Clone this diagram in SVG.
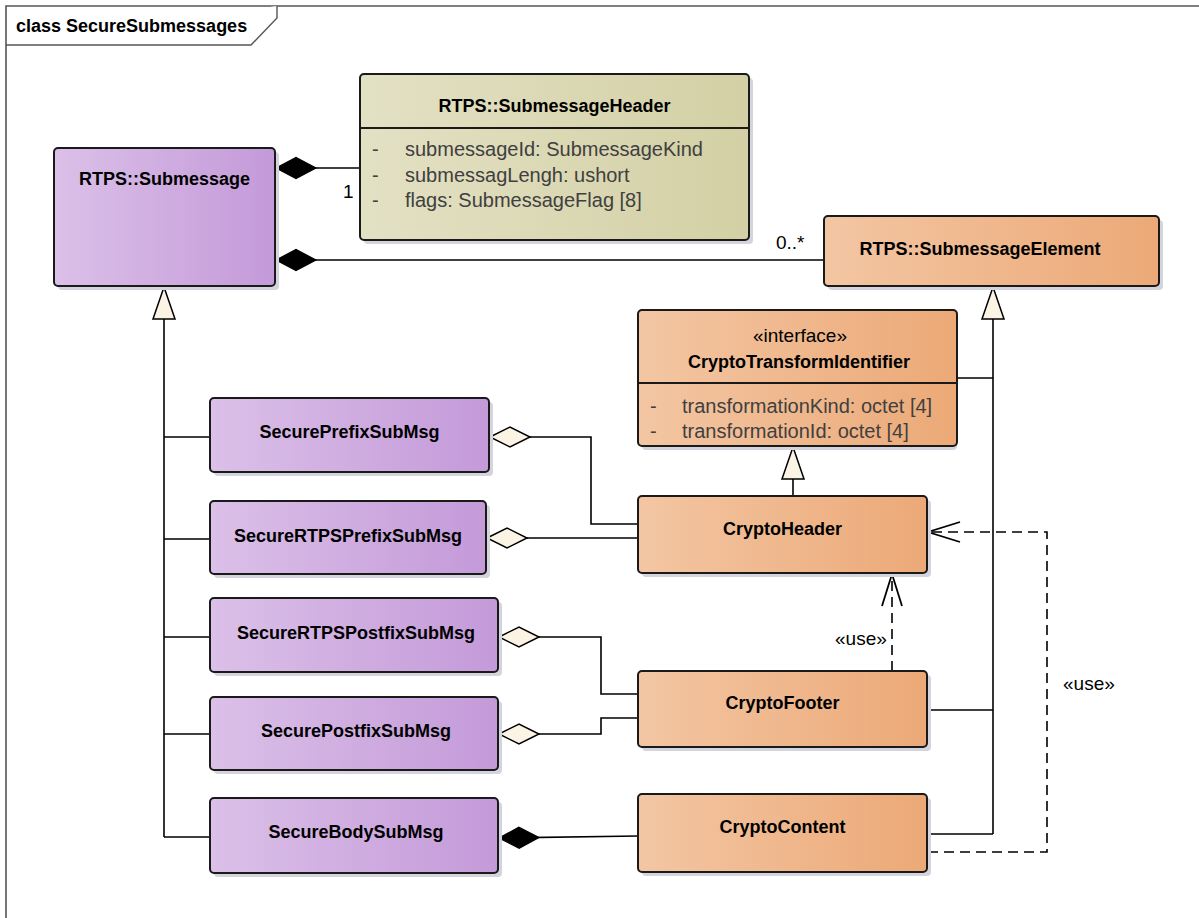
<svg xmlns="http://www.w3.org/2000/svg" width="1199" height="918" viewBox="0 0 1199 918">
<defs>
<linearGradient id="gP" x1="0" y1="0" x2="1" y2="0"><stop offset="0" stop-color="#DBC0E8"/><stop offset="1" stop-color="#C49AD9"/></linearGradient>
<linearGradient id="gO" x1="0" y1="0" x2="1" y2="0"><stop offset="0" stop-color="#F3C6A3"/><stop offset="1" stop-color="#ECA977"/></linearGradient>
<linearGradient id="gY" x1="0" y1="0" x2="1" y2="0"><stop offset="0" stop-color="#E3E1C4"/><stop offset="1" stop-color="#D3D0A5"/></linearGradient>
<marker id="dFill" markerUnits="userSpaceOnUse" viewBox="0 0 42 24" refX="1" refY="12" markerWidth="42" markerHeight="24" orient="auto" overflow="visible"><path d="M1,12 L21,1.5 L41,12 L21,22.5 Z" fill="#000" stroke="#000" stroke-width="1.2"/></marker>
<marker id="dOpen" markerUnits="userSpaceOnUse" viewBox="0 0 42 24" refX="1" refY="12" markerWidth="42" markerHeight="24" orient="auto" overflow="visible"><path d="M1,12 L21,2 L41,12 L21,22 Z" fill="#FBF3E4" stroke="#000" stroke-width="1.5"/></marker>
<marker id="tri" markerUnits="userSpaceOnUse" viewBox="0 0 34 26" refX="1" refY="13" markerWidth="34" markerHeight="26" orient="auto" overflow="visible"><path d="M1,13 L33,2 L33,24 Z" fill="#FBF3E4" stroke="#000" stroke-width="1.5"/></marker>
<marker id="arr" markerUnits="userSpaceOnUse" viewBox="0 0 34 24" refX="33" refY="12" markerWidth="34" markerHeight="24" orient="auto" overflow="visible"><path d="M1,2 L33,12 L1,22" fill="none" stroke="#000" stroke-width="1.8" stroke-dasharray="none"/></marker>
</defs>
<style>
.sh{fill:#D4D4DC}
.box{stroke:#1a1a1a;stroke-width:2}
.p{fill:url(#gP)}
.o{fill:url(#gO)}
.y{fill:url(#gY)}
.nm{font-family:"Liberation Sans",Arial,sans-serif;font-weight:bold;font-size:18px;fill:#000;text-anchor:middle}
.at{font-family:"Liberation Sans",Arial,sans-serif;font-size:20px;fill:#404040}
.lb{font-family:"Liberation Sans",Arial,sans-serif;font-size:19px;fill:#000}
.ln{fill:none;stroke:#000;stroke-width:1.6}
.dash{fill:none;stroke:#000;stroke-width:1.6;stroke-dasharray:10 6}
.div{stroke:#1a1a1a;stroke-width:2}
</style>
<rect width="1199" height="918" fill="#fff"/>
<g id="frame">
<path d="M6,918 V6 H1199" fill="none" stroke="#555" stroke-width="1.6"/>
<path d="M6,45 H251 L277,18 V6" fill="#fff" stroke="#555" stroke-width="1.4"/>
<text x="16" y="32" class="nm" style="text-anchor:start">class SecureSubmessages</text>
</g>
<g id="connectors">
<path class="ln" d="M276,168 H360" marker-start="url(#dFill)"/>
<path class="ln" d="M276,260 H824" marker-start="url(#dFill)"/>
<path class="ln" d="M164,287 V837" marker-start="url(#tri)"/>
<path class="ln" d="M164,437 H210 M164,539 H210 M164,637 H210 M164,734 H210 M164,837 H210"/>
<path class="ln" d="M993,287 V834" marker-start="url(#tri)"/>
<path class="ln" d="M957,378 H993 M928,710 H993 M928,834 H993"/>
<path class="ln" d="M793,447 V496" marker-start="url(#tri)"/>
<path class="ln" d="M490,437 H591 V524 H638" marker-start="url(#dOpen)"/>
<path class="ln" d="M487,538 H638" marker-start="url(#dOpen)"/>
<path class="ln" d="M499,637 H601 V694 H638" marker-start="url(#dOpen)"/>
<path class="ln" d="M499,734 H601 V718 H638" marker-start="url(#dOpen)"/>
<path class="ln" d="M499,838 L638,836" marker-start="url(#dFill)"/>
<path class="dash" d="M928,852 H1047 V532 H928" marker-end="url(#arr)"/>
<path class="dash" d="M892,671 V574" marker-end="url(#arr)"/>
<text x="343" y="198" class="lb">1</text>
<text x="776" y="249" class="lb">0..*</text>
<text x="835" y="645" class="lb">«use»</text>
<text x="1063" y="690" class="lb">«use»</text>
</g>
<g id="Submessage">
<rect x="58" y="152" width="221" height="138" rx="4" class="sh"/>
<rect x="54" y="148" width="221" height="138" rx="4" class="box p"/>
<text x="164.5" y="185" class="nm">RTPS::Submessage</text>
</g>
<g id="SubmessageHeader">
<rect x="364" y="78" width="389" height="166" rx="4" class="sh"/>
<rect x="360" y="74" width="389" height="166" rx="4" class="box y"/>
<line x1="360" y1="128" x2="749" y2="128" class="div"/>
<text x="554.5" y="112" class="nm">RTPS::SubmessageHeader</text>
<text x="372" y="156" class="at">-</text><text x="405" y="156" class="at">submessageId: SubmessageKind</text>
<text x="372" y="182" class="at">-</text><text x="405" y="182" class="at">submessagLengh: ushort</text>
<text x="372" y="207" class="at">-</text><text x="405" y="207" class="at">flags: SubmessageFlag [8]</text>
</g>
<g id="SubmessageElement">
<rect x="828" y="220" width="335" height="70" rx="4" class="sh"/>
<rect x="824" y="216" width="335" height="70" rx="4" class="box o"/>
<text x="980" y="255" class="nm">RTPS::SubmessageElement</text>
</g>
<g id="CryptoTransformIdentifier">
<rect x="642" y="314" width="315" height="136" rx="4" class="sh"/>
<rect x="638" y="310" width="319" height="136" rx="4" class="box o"/>
<line x1="638" y1="383" x2="957" y2="383" class="div"/>
<text x="800" y="342" class="lb" style="text-anchor:middle">«interface»</text>
<text x="799" y="368" class="nm">CryptoTransformIdentifier</text>
<text x="650" y="413" class="at">-</text><text x="682" y="413" class="at">transformationKind: octet [4]</text>
<text x="650" y="438" class="at">-</text><text x="682" y="438" class="at">transformationId: octet [4]</text>
</g>
<g id="SecurePrefixSubMsg">
<rect x="214" y="402" width="279" height="74" rx="4" class="sh"/>
<rect x="210" y="398" width="279" height="74" rx="4" class="box p"/>
<text x="349.5" y="438" class="nm">SecurePrefixSubMsg</text>
</g>
<g id="SecureRTPSPrefixSubMsg">
<rect x="214" y="505" width="276" height="73" rx="4" class="sh"/>
<rect x="210" y="501" width="276" height="73" rx="4" class="box p"/>
<text x="348" y="542" class="nm">SecureRTPSPrefixSubMsg</text>
</g>
<g id="SecureRTPSPostfixSubMsg">
<rect x="214" y="602" width="288" height="74" rx="4" class="sh"/>
<rect x="210" y="598" width="288" height="74" rx="4" class="box p"/>
<text x="356" y="639" class="nm">SecureRTPSPostfixSubMsg</text>
</g>
<g id="SecurePostfixSubMsg">
<rect x="214" y="701" width="288" height="73" rx="4" class="sh"/>
<rect x="210" y="697" width="288" height="73" rx="4" class="box p"/>
<text x="356" y="737" class="nm">SecurePostfixSubMsg</text>
</g>
<g id="SecureBodySubMsg">
<rect x="214" y="802" width="288" height="75" rx="4" class="sh"/>
<rect x="210" y="798" width="288" height="75" rx="4" class="box p"/>
<text x="356" y="838" class="nm">SecureBodySubMsg</text>
</g>
<g id="CryptoHeader">
<rect x="642" y="500" width="289" height="77" rx="4" class="sh"/>
<rect x="638" y="496" width="289" height="77" rx="4" class="box o"/>
<text x="782.5" y="535" class="nm">CryptoHeader</text>
</g>
<g id="CryptoFooter">
<rect x="642" y="675" width="289" height="76" rx="4" class="sh"/>
<rect x="638" y="671" width="289" height="76" rx="4" class="box o"/>
<text x="782.5" y="709" class="nm">CryptoFooter</text>
</g>
<g id="CryptoContent">
<rect x="642" y="798" width="289" height="78" rx="4" class="sh"/>
<rect x="638" y="794" width="289" height="78" rx="4" class="box o"/>
<text x="782.5" y="833" class="nm">CryptoContent</text>
</g>
</svg>
